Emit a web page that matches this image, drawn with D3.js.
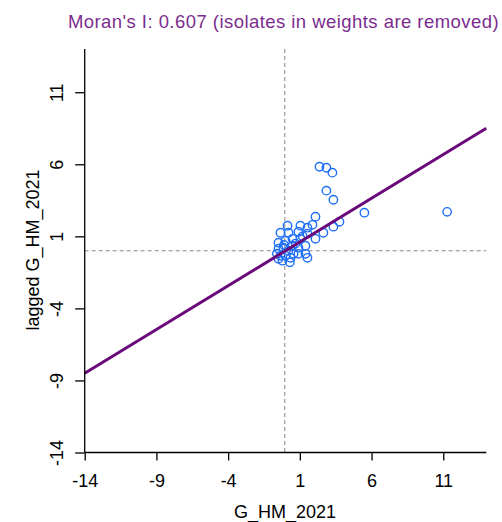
<!DOCTYPE html>
<html>
<head>
<meta charset="utf-8">
<script src="https://cdn.jsdelivr.net/npm/d3@7"></script>
<style>
  body { margin: 0; background: #fff; }
  text { font-family: "Liberation Sans", Arial, sans-serif; }
</style>
</head>
<body>
<svg id="chart" width="502" height="522"></svg>
<script>
// values
var xVals = [2.37, 2.85, 3.27, 2.85, 3.34, 5.5, 11.27, 2.09, 1.88, 3.76, 3.34,
  0.14, 1.04, 1.53, -0.35, 0.21, 0.9, 1.53, 2.64, -0.49, 0, 0.49, 1.04, 2.09,
  -0.49, -0.14, 0.49, 0.9, 1.39, -0.35, 0, 0.56, 0.9, 1.39, -0.49, -0.21, 0.35, 1.53,
  -0.6, 0.2, 0.7, 1.2, -0.1, 0.3];
var yVals = [5.83, 5.76, 5.42, 4.17, 3.54, 2.64, 2.7, 2.36, 1.8, 2.01, 1.67,
  1.74, 1.74, 1.6, 1.25, 1.25, 1.32, 1.18, 1.25, 0.56, 0.69, 0.83, 0.83, 0.83,
  0.14, 0.21, 0.35, 0.21, 0.35, -0.35, -0.35, -0.21, -0.21, -0.21, -0.56, -0.69, -0.49, -0.49,
  -0.2, 0.0, 0.5, 1.0, 0.4, -0.8];
var ticks = [-14, -9, -4, 1, 6, 11];
var moranI = 0.607;
var xMean = -0.05, yMean = 0;

var svg = d3.select("#chart");
var x = d3.scaleLinear().domain([-14, 14]).range([84.7, 486.3]);
var y = d3.scaleLinear().domain([-14, 14]).range([452.5, 49]);

// title
svg.append("text")
  .attr("x", 283.5).attr("y", 28)
  .attr("text-anchor", "middle")
  .attr("font-size", 18.5)
  .attr("letter-spacing", "0.45px")
  .attr("fill", "#7b2d8e")
  .text("Moran's I: " + moranI + " (isolates in weights are removed)");

// dashed mean lines
svg.append("line")
  .attr("x1", x(xMean)).attr("x2", x(xMean))
  .attr("y1", y(14)).attr("y2", y(-14))
  .attr("stroke", "#888").attr("stroke-dasharray", "4,3");
svg.append("line")
  .attr("x1", x(-14)).attr("x2", x(14))
  .attr("y1", y(yMean)).attr("y2", y(yMean))
  .attr("stroke", "#888").attr("stroke-dasharray", "4,3");

// points
svg.append("g").selectAll("circle")
  .data(xVals.map(function(v, i) { return [v, yVals[i]]; }))
  .enter()
  .append("circle")
  .attr("cx", function(d) { return x(d[0]); })
  .attr("cy", function(d) { return y(d[1]); })
  .attr("r", 4.2)
  .attr("fill", "none")
  .attr("stroke", "#1f6ff7")
  .attr("stroke-width", 1.4);

// regression line
svg.append("line")
  .attr("x1", x(-14)).attr("y1", y(-14 * moranI))
  .attr("x2", x(14)).attr("y2", y(14 * moranI))
  .attr("stroke", "#6a0a7a").attr("stroke-width", 3);

// axes
var xAxis = svg.append("g")
  .attr("transform", "translate(0," + y(-14) + ")")
  .call(d3.axisBottom(x).tickValues(ticks).tickSize(8).tickSizeOuter(0)
    .tickFormat(function(d) { return String(d); }));
var yAxis = svg.append("g")
  .attr("transform", "translate(" + x(-14) + ",0)")
  .call(d3.axisLeft(y).tickValues(ticks).tickSize(9.5).tickSizeOuter(0)
    .tickFormat(function(d) { return String(d); }));

[xAxis, yAxis].forEach(function(a) {
  a.select(".domain").remove();
  a.selectAll("line").attr("stroke", "#000").attr("stroke-width", 1.3);
  a.selectAll("text").attr("font-size", 18).attr("fill", "#000")
    .attr("font-family", "Liberation Sans, Arial, sans-serif");
});
xAxis.selectAll(".tick text").attr("y", 34.5).attr("dy", 0);
yAxis.selectAll(".tick text")
  .attr("text-anchor", "middle")
  .attr("x", 0).attr("y", 0).attr("dy", 0)
  .attr("transform", "translate(-21.5,0) rotate(-90)");

// axis lines
svg.append("line")
  .attr("x1", x(-14)).attr("x2", x(14))
  .attr("y1", y(-14)).attr("y2", y(-14))
  .attr("stroke", "#000").attr("stroke-width", 1.3);
svg.append("line")
  .attr("x1", x(-14)).attr("x2", x(-14))
  .attr("y1", y(14)).attr("y2", y(-14))
  .attr("stroke", "#000").attr("stroke-width", 1.3);

// axis titles
svg.append("text")
  .attr("x", 285).attr("y", 518)
  .attr("text-anchor", "middle")
  .attr("font-size", 18)
  .text("G_HM_2021");
svg.append("text")
  .attr("transform", "translate(39,250) rotate(-90)")
  .attr("text-anchor", "middle")
  .attr("font-size", 18)
  .text("lagged G_HM_2021");
</script>
</body>
</html>
